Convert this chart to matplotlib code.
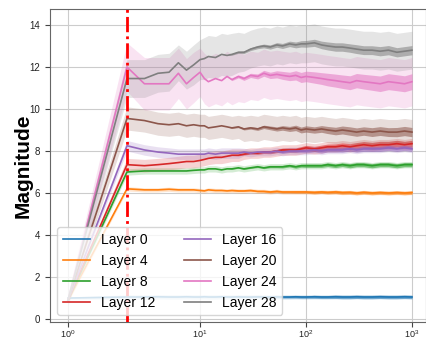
import numpy as np
import matplotlib
matplotlib.use("Agg")
import matplotlib.pyplot as plt

plt.rcParams['font.family'] = ['Liberation Sans', 'DejaVu Sans']
plt.rcParams['mathtext.fontset'] = 'custom'
plt.rcParams['mathtext.rm'] = 'Liberation Sans'
plt.rcParams['mathtext.it'] = 'Liberation Sans:italic'
plt.rcParams['mathtext.bf'] = 'Liberation Sans:bold'

# ---------------- data ----------------
steps = [1, 3, 4, 5, 6, 7, 8, 9, 10, 11, 12, 14, 16, 18, 20, 23, 26, 30, 35, 40,
         46, 53, 60, 70, 80, 90, 100, 120, 140, 160, 190, 220, 260, 300, 350,
         420, 500, 600, 720, 850, 1000]

layer_names = ["Layer 0", "Layer 4", "Layer 8", "Layer 12",
               "Layer 16", "Layer 20", "Layer 24", "Layer 28"]

layer0_mean = [1.0, 1.05, 1.05, 1.06, 1.05, 1.05, 1.06, 1.05, 1.05, 1.06, 1.05,
               1.05, 1.06, 1.05, 1.05, 1.06, 1.05, 1.05, 1.06, 1.05, 1.05, 1.06,
               1.05, 1.05, 1.06, 1.05, 1.05, 1.06, 1.05, 1.05, 1.06, 1.05, 1.05,
               1.06, 1.05, 1.05, 1.06, 1.05, 1.05, 1.06, 1.05]
layer4_mean = [0.9, 6.2, 6.15, 6.15, 6.18, 6.15, 6.15, 6.15, 6.12, 6.1, 6.15,
               6.12, 6.12, 6.1, 6.12, 6.1, 6.1, 6.12, 6.08, 6.08, 6.05, 6.08,
               6.05, 6.05, 6.05, 6.05, 6.05, 6.03, 6.05, 6.03, 6.05, 6.02, 6.03,
               6.0, 6.03, 6.0, 6.02, 6.0, 6.02, 6.0, 6.02]
layer8_mean = [0.9, 7.0, 7.05, 7.05, 7.05, 7.05, 7.05, 7.08, 7.1, 7.1, 7.15,
               7.15, 7.1, 7.15, 7.15, 7.2, 7.15, 7.2, 7.25, 7.2, 7.25, 7.25,
               7.25, 7.3, 7.25, 7.3, 7.3, 7.3, 7.3, 7.35, 7.3, 7.35, 7.3,
               7.35, 7.35, 7.3, 7.35, 7.35, 7.3, 7.35, 7.35]
layer12_mean = [0.9, 7.35, 7.3, 7.35, 7.4, 7.45, 7.5, 7.5, 7.55, 7.6, 7.65,
                7.7, 7.7, 7.75, 7.8, 7.8, 7.85, 7.9, 7.9, 7.95, 7.95, 8.0,
                8.05, 8.05, 8.05, 8.1, 8.15, 8.1, 8.15, 8.2, 8.2, 8.25, 8.2,
                8.25, 8.3, 8.25, 8.3, 8.3, 8.35, 8.3, 8.35]
layer16_mean = [0.9, 8.25, 8.05, 7.95, 7.9, 7.85, 7.85, 7.85, 7.85, 7.85, 7.9,
                7.85, 7.9, 7.9, 7.9, 7.9, 7.95, 7.9, 7.95, 7.95, 7.95, 8.0,
                7.95, 8.0, 8.0, 8.0, 8.0, 8.05, 8.0, 8.05, 8.05, 8.05, 8.1,
                8.05, 8.1, 8.1, 8.1, 8.15, 8.1, 8.15, 8.1]
layer20_mean = [0.9, 9.55, 9.45, 9.3, 9.25, 9.3, 9.2, 9.25, 9.2, 9.2, 9.1,
                9.15, 9.2, 9.15, 9.1, 9.15, 9.05, 9.1, 9.05, 9.15, 9.1, 9.05,
                9.1, 9.05, 9.1, 9.0, 9.05, 9.0, 9.05, 9.0, 8.95, 9.0, 8.95,
                8.9, 8.95, 8.9, 8.95, 8.9, 8.9, 8.95, 8.9]
layer24_mean = [0.9, 12.0, 11.2, 11.2, 11.2, 11.7, 11.2, 11.5, 11.75, 11.45, 11.3,
                11.45, 11.35, 11.55, 11.4, 11.55, 11.45, 11.6, 11.55, 11.7, 11.6,
                11.65, 11.6, 11.55, 11.6, 11.5, 11.55, 11.5, 11.45, 11.4, 11.35,
                11.3, 11.25, 11.35, 11.3, 11.25, 11.2, 11.3, 11.25, 11.2, 11.3]
layer28_mean = [0.9, 11.45, 11.45, 11.7, 11.75, 12.2, 11.85, 12.1, 12.35, 12.4, 12.5,
                12.45, 12.6, 12.55, 12.6, 12.7, 12.7, 12.85, 12.95, 13.0, 12.95,
                13.05, 13.0, 13.1, 13.05, 13.1, 13.1, 13.15, 13.05, 13.0, 12.95,
                12.95, 12.9, 12.85, 12.8, 12.8, 12.75, 12.8, 12.7, 12.75, 12.8]

# spread (half-width of the shaded band) per layer
layer0_std = [0.05] + [0.1] * 40
layer4_std = [0.1] + [0.1] * 40
layer8_std = [0.1] + [0.15] * 40
layer12_std = [0.1] + [0.3] * 15 + [0.25] * 25
layer16_std = [0.1] + [0.25] * 15 + [0.18] * 25
layer20_std = [0.2] + [0.55] * 15 + [0.6] * 25
layer24_std = [0.3] + [1.15, 1.25, 1.25, 1.25, 1.2, 1.2, 1.2, 1.15, 1.2, 1.2,
                       1.2, 1.2, 1.2, 1.2, 1.2] + [1.15] * 25
layer28_std = [0.3] + [0.9, 0.9, 0.9, 0.9, 0.85, 0.9, 0.95, 0.95, 1.0, 1.0,
                       1.0, 1.0, 1.0, 1.0, 0.95] + [0.9] * 25

# visible step-to-step jitter of each curve (half-width of the fuzzy line)
layer0_jit = [0] * 14 + [0.01, 0.02, 0.02, 0.03, 0.03, 0.04, 0.04, 0.05, 0.05,
                         0.05, 0.06, 0.06, 0.06, 0.07, 0.07, 0.07, 0.08, 0.08,
                         0.08, 0.08, 0.08, 0.08, 0.08, 0.08, 0.08, 0.08, 0.08]
layer4_jit = [0] * 14 + [0.01, 0.02, 0.02, 0.03, 0.03, 0.04, 0.04, 0.05, 0.05,
                         0.05, 0.06, 0.06, 0.06, 0.07, 0.07, 0.07, 0.08, 0.08,
                         0.08, 0.08, 0.08, 0.08, 0.08, 0.08, 0.08, 0.08, 0.08]
layer8_jit = [0] * 14 + [0.02, 0.02, 0.03, 0.03, 0.04, 0.04, 0.05, 0.05, 0.06,
                         0.06, 0.07, 0.07, 0.08, 0.08, 0.08, 0.09, 0.09, 0.09,
                         0.1, 0.1, 0.1, 0.1, 0.1, 0.1, 0.1, 0.1, 0.1]
layer12_jit = [0] * 14 + [0.02, 0.03, 0.04, 0.05, 0.06, 0.07, 0.08, 0.08, 0.09,
                          0.1, 0.1, 0.11, 0.12, 0.12, 0.13, 0.13, 0.14, 0.14,
                          0.15, 0.15, 0.15, 0.16, 0.16, 0.16, 0.16, 0.16, 0.16]
layer16_jit = [0] * 14 + [0.02, 0.02, 0.03, 0.04, 0.05, 0.05, 0.06, 0.06, 0.07,
                          0.07, 0.08, 0.08, 0.09, 0.09, 0.1, 0.1, 0.1, 0.11,
                          0.11, 0.11, 0.12, 0.12, 0.12, 0.12, 0.12, 0.12, 0.12]
layer20_jit = [0] * 14 + [0.03, 0.04, 0.05, 0.06, 0.07, 0.08, 0.09, 0.1, 0.11,
                          0.12, 0.13, 0.14, 0.15, 0.15, 0.16, 0.17, 0.18, 0.19,
                          0.2, 0.2, 0.2, 0.21, 0.21, 0.21, 0.22, 0.22, 0.22]
layer24_jit = [0] * 14 + [0.05, 0.07, 0.09, 0.1, 0.12, 0.14, 0.15, 0.17, 0.19,
                          0.2, 0.22, 0.24, 0.25, 0.27, 0.28, 0.3, 0.31, 0.32,
                          0.33, 0.34, 0.35, 0.36, 0.37, 0.38, 0.38, 0.38, 0.38]
layer28_jit = [0] * 14 + [0.04, 0.05, 0.06, 0.07, 0.08, 0.09, 0.1, 0.11, 0.12,
                          0.13, 0.14, 0.15, 0.16, 0.17, 0.18, 0.19, 0.2, 0.2,
                          0.2, 0.21, 0.21, 0.21, 0.22, 0.22, 0.22, 0.22, 0.22]

means = [layer0_mean, layer4_mean, layer8_mean, layer12_mean,
         layer16_mean, layer20_mean, layer24_mean, layer28_mean]
stds = [layer0_std, layer4_std, layer8_std, layer12_std,
        layer16_std, layer20_std, layer24_std, layer28_std]
jits = [layer0_jit, layer4_jit, layer8_jit, layer12_jit,
        layer16_jit, layer20_jit, layer24_jit, layer28_jit]

marker_step = 3
y_ticks = [0, 2, 4, 6, 8, 10, 12, 14]
x_ticks = [1, 10, 100, 1000]
x_tick_labels = [r'$\mathregular{10^{0}}$', r'$\mathregular{10^{1}}$',
                 r'$\mathregular{10^{2}}$', r'$\mathregular{10^{3}}$']

# ---------------- axis scale (log, with slightly wider first decade) ----------------
LK = np.array([-6.0, 0.0, np.log10(3), 1.0, 2.0, 3.0, 6.0])
PK = np.array([-724.0, 68.0, 127.0, 200.0, 306.0, 412.0, 730.0])


def fwd(x):
    x = np.asarray(x, dtype=float)
    return np.interp(np.log10(np.clip(x, 1e-6, None)), LK, PK)


def inv(p):
    p = np.asarray(p, dtype=float)
    return 10.0 ** np.interp(p, PK, LK)


# ---------------- figure ----------------
fig = plt.figure(figsize=(4.26, 3.41), dpi=100)
ax = fig.add_axes([50 / 426, 19 / 341, 376 / 426, 313 / 341])
ax.set_xscale('function', functions=(fwd, inv))

colors = plt.rcParams['axes.prop_cycle'].by_key()['color']
x = np.array(steps, dtype=float)
for i, (name, m, s, j) in enumerate(zip(layer_names, means, stds, jits)):
    m = np.array(m)
    s = np.array(s)
    j = np.array(j)
    ax.fill_between(x, m - s, m + s, color=colors[i], alpha=0.2, lw=0)
    ax.fill_between(x, m - j, m + j, color=colors[i], alpha=0.55, lw=0)
    ax.plot(x, m, color=colors[i], lw=1.2, label=name)

ax.axvline(marker_step, color='red', lw=2, linestyle=(0, (5.5, 1.5, 1, 1.5)), zorder=5)

ax.set_xlim(10 ** (-18 / 132), 10 ** (3 + 14 / 106))
ax.set_ylim(-0.14, 14.76)
ax.set_xticks(x_ticks)
ax.set_xticklabels(x_tick_labels)
ax.xaxis.set_minor_locator(matplotlib.ticker.NullLocator())
ax.set_yticks(y_ticks)
ax.tick_params(labelsize=7, length=3.5, color='#444444', labelcolor='#222222')
ax.tick_params(axis='x', pad=0.8, labelsize=6.5)

ax.grid(True, color='#cccccc', lw=0.8)
ax.set_axisbelow(True)
for sp in ax.spines.values():
    sp.set_color('#666666')

ax.set_ylabel('Magnitude', fontsize=15, fontweight='bold')
ax.yaxis.set_label_coords(-0.045, 0.5)

ax.legend(ncol=2, loc='lower left', fontsize=10)

fig.savefig('out.png', dpi=100)
